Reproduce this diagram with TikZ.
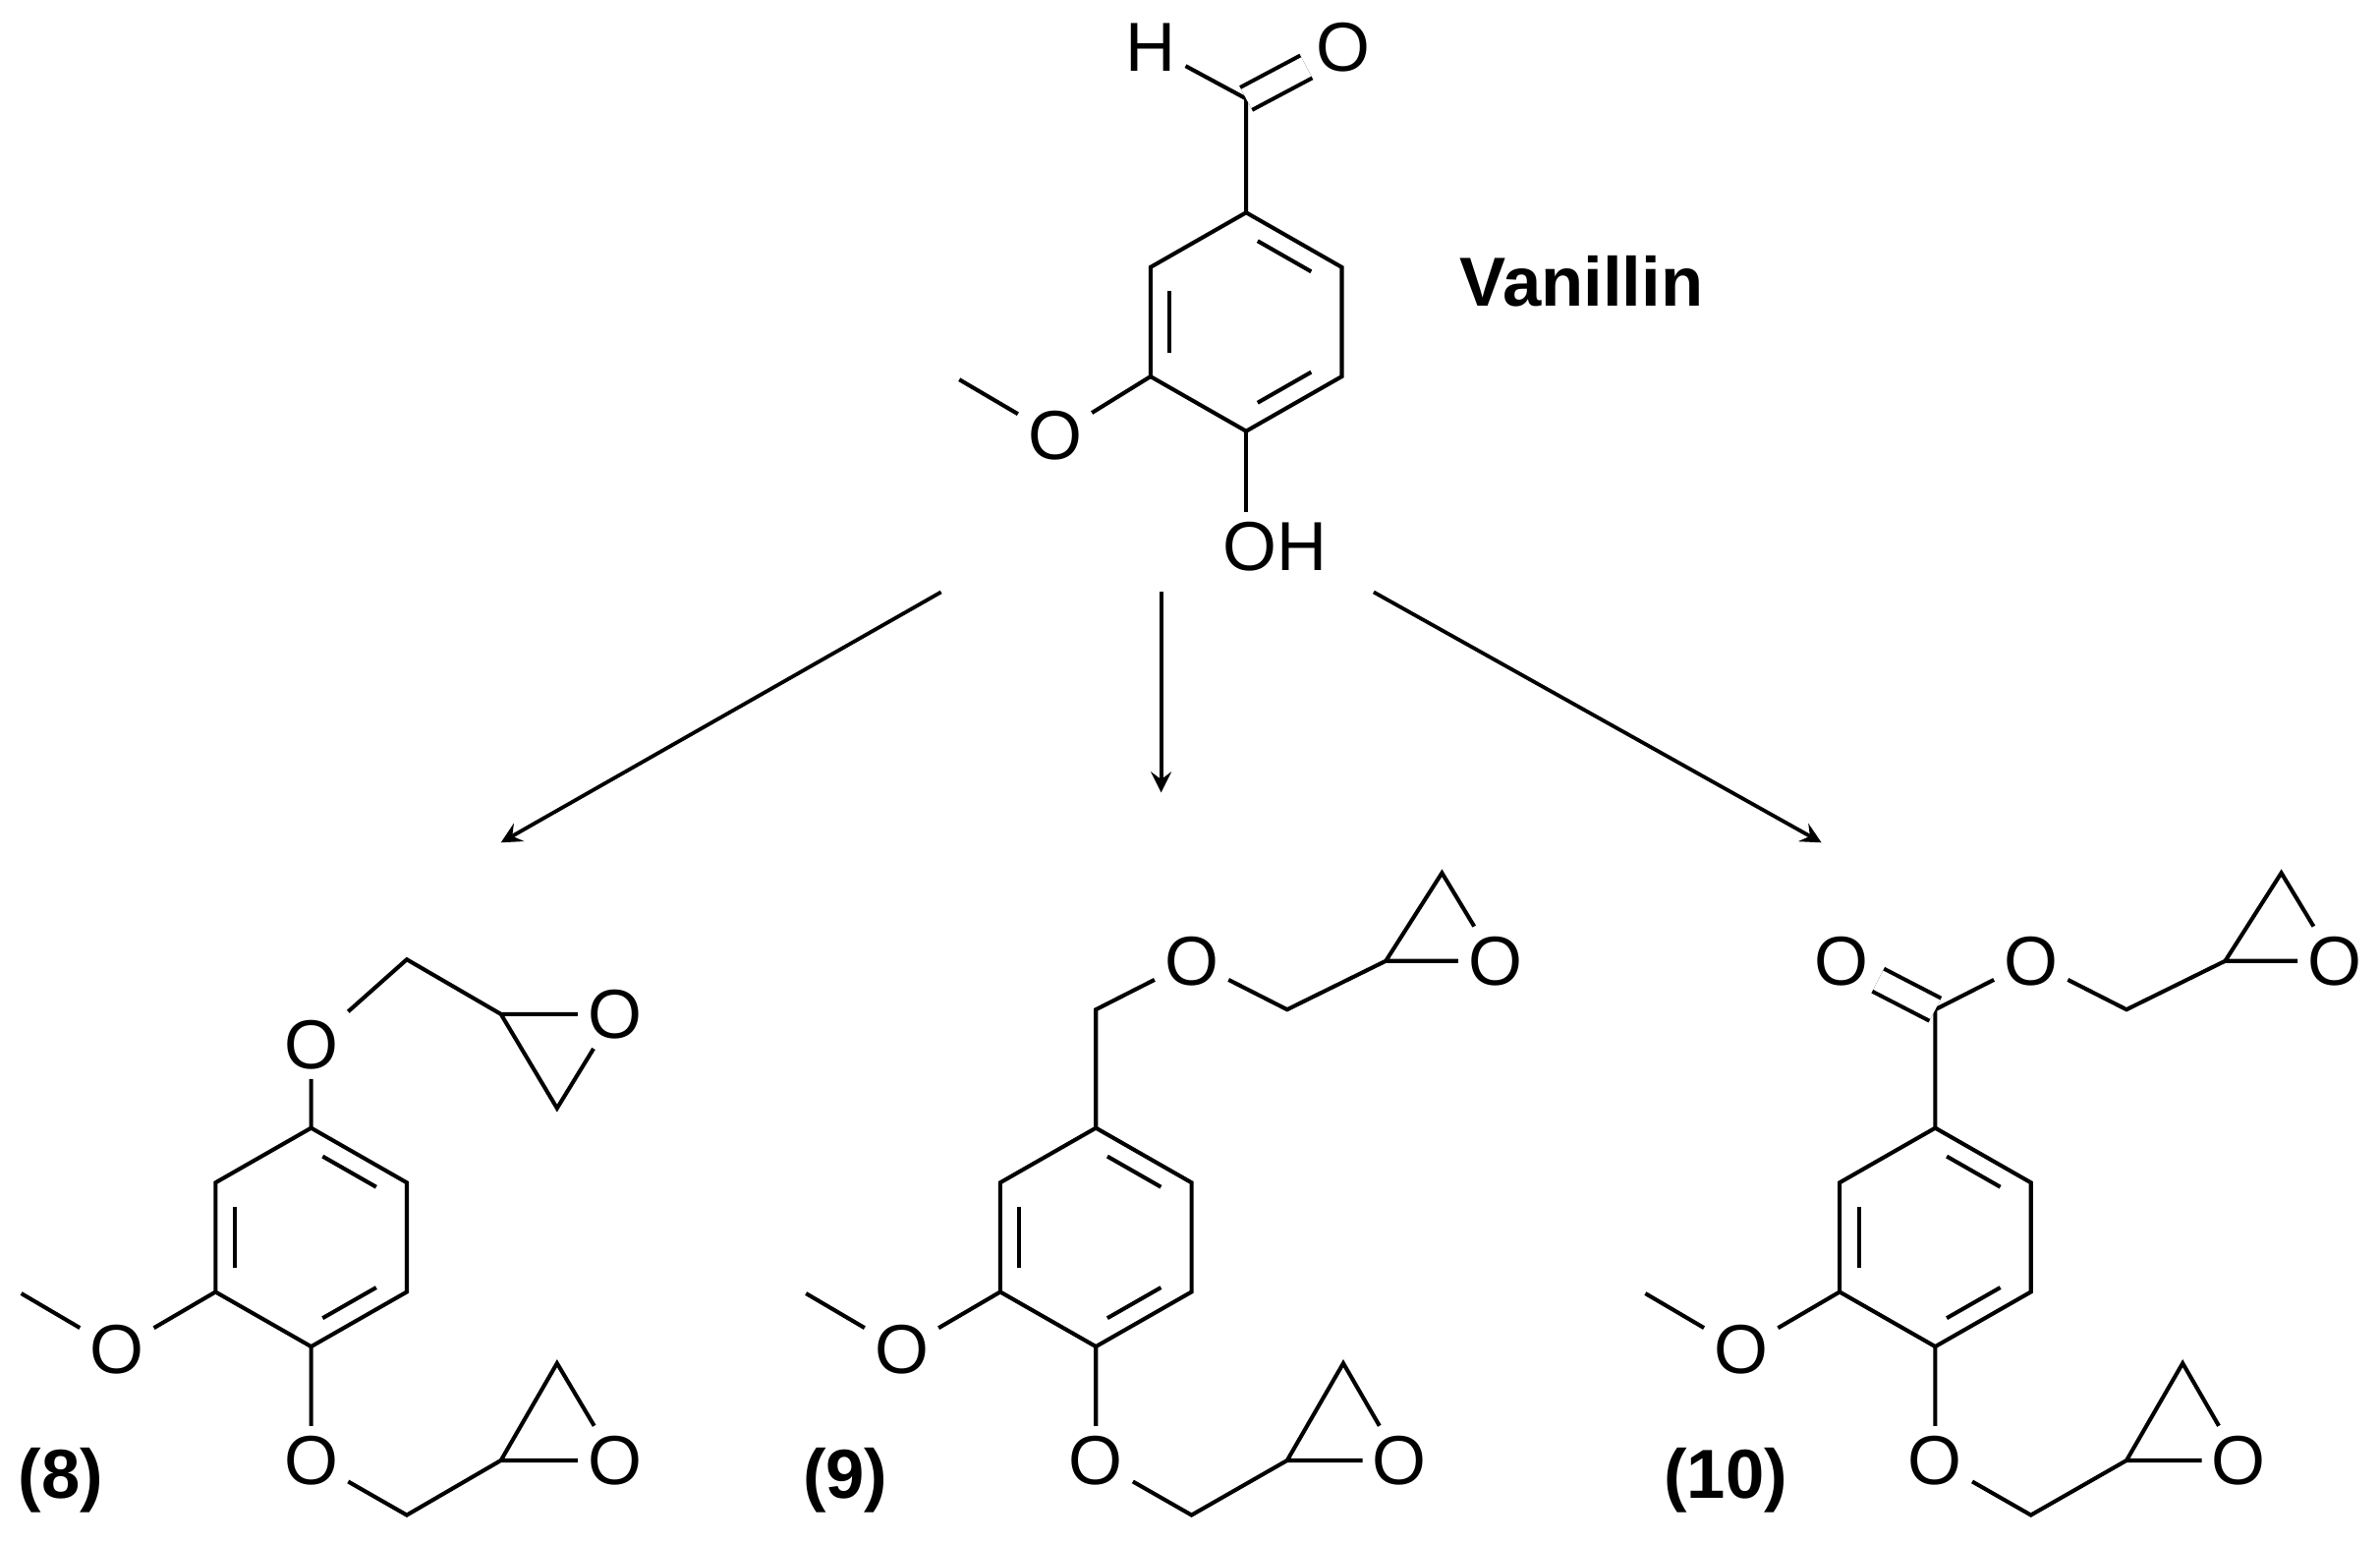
\documentclass[tikz,border=0pt]{standalone}
\usepackage{fontspec}
\setmainfont{Liberation Sans}
\usetikzlibrary{calc}

% benzene ring: #1 prefix, (#2,#3) centre; double bonds 1-2, 3-4, 5-6
\newcommand{\benz}[3]{%
  \coordinate (#1c) at (#2,#3);
  \coordinate (#11) at (#2,#3-72);
  \coordinate (#12) at (#2+63,#3-36);
  \coordinate (#13) at (#2+63,#3+36);
  \coordinate (#14) at (#2,#3+72);
  \coordinate (#15) at (#2-63,#3+36);
  \coordinate (#16) at (#2-63,#3-36);
  \draw (#11) -- (#12) -- (#13) -- (#14) -- (#15) -- (#16) -- cycle;
  \foreach \a/\b in {1/2,3/4,5/6}
    \draw ($($(#1\a)!.15!(#1\b)$)!.2!(#1c)$) -- ($($(#1\a)!.85!(#1\b)$)!.2!(#1c)$);
}

\begin{document}
\begin{tikzpicture}[x=0.01cm,y=-0.01cm,line width=0.75pt,
    atom/.style={inner sep=1.5pt,font=\fontsize{13}{13}\selectfont},
    cpd/.style={font=\fontsize{13}{13}\selectfont\bfseries},
    react/.style={->,>=stealth,line width=0.7pt}]
  \useasboundingbox (0,0) rectangle (1568,1017);

  % vanillin
  \benz{v}{821}{212}
  \coordinate (vald) at (821,65);
  \node[atom] (vH) at (758,31) {H};
  \node[atom] (vO) at (885,31) {O};
  \node[atom] (vOH) at (840,360) {OH};
  \node[atom] (vOMe) at (695,287) {O};
  \coordinate (vMe) at (632,250);
  \draw (v1) -- (vald) -- (vH);
  \draw[double,double distance=4pt] (vald) -- (vO);
  \draw (v4) -- (v4 |- vOH.north);
  \draw (v5) -- (vOMe) -- (vMe);
  \node[cpd] (vname) at (1042,185) {Vanillin};

  % arrows
  \coordinate (a1s) at (620,390); \coordinate (a1e) at (330,555);
  \coordinate (a2s) at (765,390); \coordinate (a2e) at (765,522);
  \coordinate (a3s) at (905,390); \coordinate (a3e) at (1200,555);
  \draw[react] (a1s) -- (a1e);
  \draw[react] (a2s) -- (a2e);
  \draw[react] (a3s) -- (a3e);

  % (8)
  \benz{e}{205}{815}
  \node[atom] (eO1) at (205,688) {O};
  \coordinate (eCa) at (268,632);
  \coordinate (eEa) at (330,668);
  \coordinate (eTa) at (367,730);
  \node[atom] (eX1) at (405,668) {O};
  \draw (e1) -- (eO1) -- (eCa) -- (eEa) -- (eTa) -- (eX1) -- (eEa);
  \node[atom] (eO2) at (205,962) {O};
  \coordinate (eCb) at (268,998);
  \coordinate (eEb) at (330,962);
  \coordinate (eTb) at (367,898);
  \node[atom] (eX2) at (405,962) {O};
  \draw (e4) -- (eO2) -- (eCb) -- (eEb) -- (eTb) -- (eX2) -- (eEb);
  \node[atom] (eOMe) at (77,889) {O};
  \coordinate (eMe) at (14,852);
  \draw (e5) -- (eOMe) -- (eMe);
  \node[cpd] (lab8) at (40,975) {(8)};

  % (9)
  \benz{n}{722}{815}
  \coordinate (nCH) at (722,665);
  \node[atom] (nO1) at (785,633) {O};
  \coordinate (nCa) at (848,665);
  \coordinate (nEa) at (913,633);
  \coordinate (nTa) at (950,575);
  \node[atom] (nX1) at (985,633) {O};
  \draw (n1) -- (nCH) -- (nO1) -- (nCa) -- (nEa) -- (nTa) -- (nX1) -- (nEa);
  \node[atom] (nO2) at (722,962) {O};
  \coordinate (nCb) at (785,998);
  \coordinate (nEb) at (848,962);
  \coordinate (nTb) at (885,898);
  \node[atom] (nX2) at (922,962) {O};
  \draw (n4) -- (nO2) -- (nCb) -- (nEb) -- (nTb) -- (nX2) -- (nEb);
  \node[atom] (nOMe) at (594,889) {O};
  \coordinate (nMe) at (531,852);
  \draw (n5) -- (nOMe) -- (nMe);
  \node[cpd] (lab9) at (557,975) {(9)};

  % (10)
  \benz{t}{1275}{815}
  \coordinate (tCO) at (1275,665);
  \node[atom] (tOd) at (1213,633) {O};
  \node[atom] (tO1) at (1338,633) {O};
  \coordinate (tCa) at (1401,665);
  \coordinate (tEa) at (1466,633);
  \coordinate (tTa) at (1503,575);
  \node[atom] (tX1) at (1538,633) {O};
  \draw (t1) -- (tCO) -- (tO1) -- (tCa) -- (tEa) -- (tTa) -- (tX1) -- (tEa);
  \draw[double,double distance=4pt] (tCO) -- (tOd);
  \node[atom] (tO2) at (1275,962) {O};
  \coordinate (tCb) at (1338,998);
  \coordinate (tEb) at (1401,962);
  \coordinate (tTb) at (1438,898);
  \node[atom] (tX2) at (1475,962) {O};
  \draw (t4) -- (tO2) -- (tCb) -- (tEb) -- (tTb) -- (tX2) -- (tEb);
  \node[atom] (tOMe) at (1147,889) {O};
  \coordinate (tMe) at (1084,852);
  \draw (t5) -- (tOMe) -- (tMe);
  \node[cpd] (lab10) at (1137,975) {(10)};
\end{tikzpicture}
\end{document}
